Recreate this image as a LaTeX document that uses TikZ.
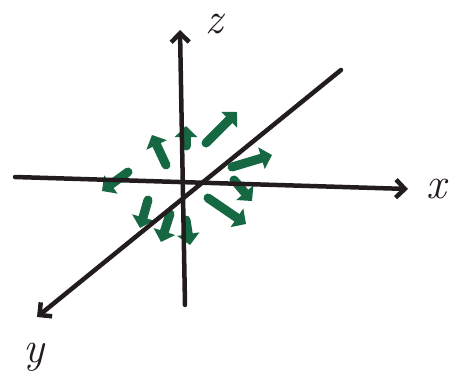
\documentclass[tikz,border=0pt]{standalone}
\usepackage{tikz}
\usetikzlibrary{arrows.meta}
\definecolor{MarkerGreen}{RGB}{22,104,66}
\definecolor{MarkerBlack}{RGB}{35,28,30}

\begin{document}
\begin{tikzpicture}[x=1pt,y=-1pt,
 axis/.style={line width=4.5pt,draw=MarkerBlack,line cap=round,
 -{Straight Barb[length=9pt,width=18pt,line width=4.5pt]}},
 flux/.style={line width=9pt,draw=MarkerGreen,line cap=round,
 -{Triangle[length=11pt,width=22pt]}},
 lbl/.style={text=MarkerBlack,inner sep=0pt,anchor=base,
 font=\fontsize{44}{44}\selectfont\itshape}]
\useasboundingbox (0,0) rectangle (451,388);
\clip (0,0) rectangle (451,388);
% axes
\coordinate (zbot) at (185,305);
\coordinate (ztop) at (180,30);
\coordinate (xleft) at (15,177);
\coordinate (xright) at (408,189);
\coordinate (ytop) at (341,70);
\coordinate (ybot) at (37,317);
% green arrows round the origin
\foreach \a/\b/\c/\d in {186/146/186/126, 166/165/152/135, 206/143/237/112,
 232/167/272/155, 234/180/252/201, 208/198/246/224, 186/220/190/245,
 170/214/161/242, 148/200/140/228, 128/172/102/191}
 \draw[flux] (\a,\b) -- (\c,\d);
\draw[axis] (zbot) -- (ztop);
\draw[axis] (xleft) -- (xright);
\draw[axis] (ytop) -- (ybot);
\node[lbl] (zlabel) at (214,34) {z};
\node[lbl] (xlabel) at (436,198) {x};
\node[lbl] (ylabel) at (34,362) {y};
\end{tikzpicture}
\end{document}
